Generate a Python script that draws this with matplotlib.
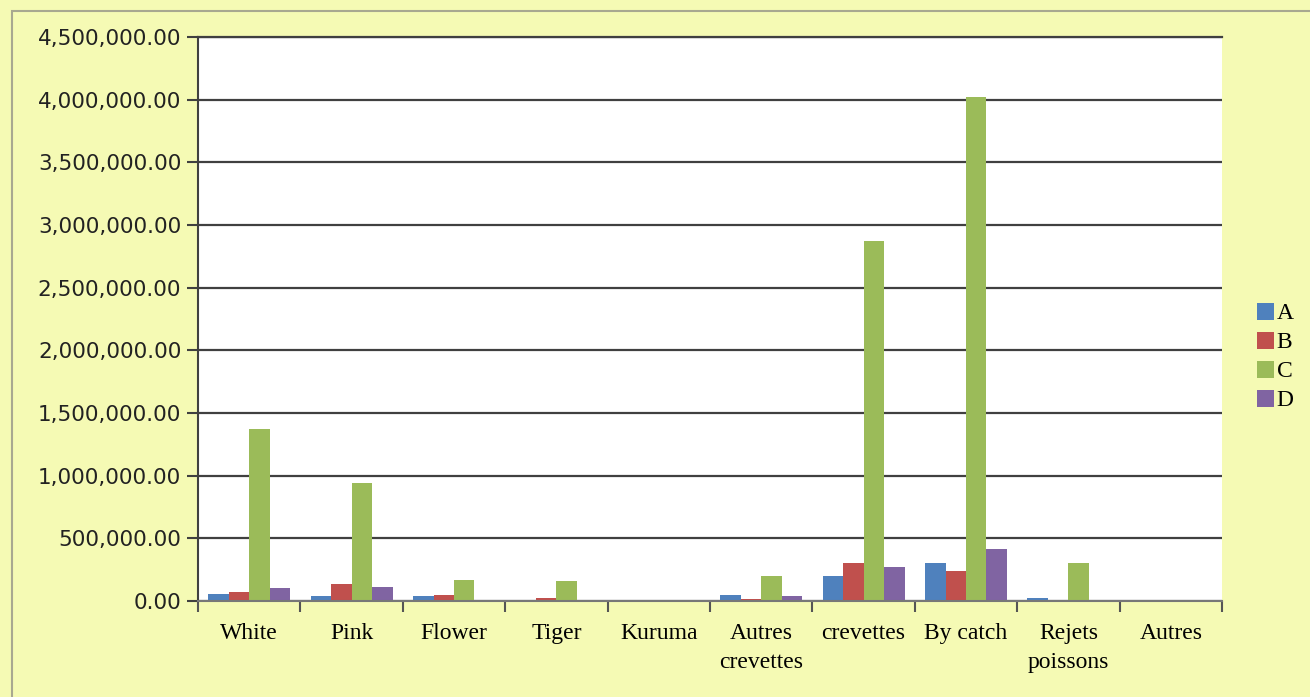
import matplotlib
matplotlib.use("Agg")
import matplotlib.pyplot as plt
import numpy as np
from matplotlib.ticker import FuncFormatter, MultipleLocator
from matplotlib.patches import Rectangle

categories = ["White", "Pink", "Flower", "Tiger", "Kuruma", "Autres\ncrevettes",
              "crevettes", "By catch", "Rejets\npoissons", "Autres"]
series_names = ["A", "B", "C", "D"]
A = [55000, 40000, 40000, 0, 0, 45000, 200000, 305000, 22000, 0]
B = [70000, 135000, 50000, 20000, 0, 15000, 305000, 240000, 6000, 0]
C = [1375000, 940000, 165000, 158000, 0, 200000, 2870000, 4020000, 300000, 0]
D = [103000, 112000, 0, 0, 0, 37000, 270000, 412000, 0, 0]
series = [A, B, C, D]
colors = ["#4F81BD", "#C0504D", "#9BBB59", "#8064A2"]

bg = "#F5FAB4"
fig = plt.figure(figsize=(13.1, 6.97), dpi=100, facecolor=bg)
fig.patches.append(Rectangle((12/1310, -0.1), 1.2, 1 - 11/697 + 0.1, transform=fig.transFigure,
                             fill=False, edgecolor="#A8A890", lw=1.5, zorder=0))
ax = fig.add_axes([198/1310, 1 - 601/697, (1222-198)/1310, (601-37)/697])
ax.set_facecolor("white")

x = np.arange(len(categories))
w = 0.2
for i, (vals, col, name) in enumerate(zip(series, colors, series_names)):
    ax.bar(x - 0.3 + i*w, vals, width=w, color=col, label=name, zorder=3)

ax.set_xlim(-0.5, len(categories) - 0.5)
ax.set_ylim(0, 4500000)
ax.yaxis.set_major_locator(MultipleLocator(500000))
ax.yaxis.set_major_formatter(FuncFormatter(lambda v, p: f"{v:,.2f}"))
ax.grid(axis="y", color="#404040", lw=1.6, zorder=1)

ax.set_xticks(np.arange(len(categories) + 1) - 0.5)
ax.set_xticklabels([])
ax.set_xticks(x, minor=True)
ax.set_xticklabels(categories, minor=True, fontfamily="Liberation Serif", fontsize=17,
                   linespacing=1.5)
ax.tick_params(axis="x", which="minor", length=0, pad=16)
ax.tick_params(axis="x", which="major", length=8, width=1.5, color="#555555")
ax.tick_params(axis="y", length=8, width=1.5, color="#404040", pad=4, labelsize=15.5)
for lab in ax.get_yticklabels():
    lab.set_fontfamily("DejaVu Sans")
    lab.set_color("#222222")

ax.spines["right"].set_visible(False)
ax.spines["top"].set_color("#404040")
ax.spines["top"].set_linewidth(1.6)
ax.spines["left"].set_color("#404040")
ax.spines["left"].set_linewidth(1.5)
ax.spines["bottom"].set_color("#777777")
ax.spines["bottom"].set_linewidth(1.5)
ax.spines["bottom"].set_zorder(4)

leg = fig.legend(loc="center left", bbox_to_anchor=(1240/1310, 1 - 357/697), frameon=False,
                 prop={"family": "Liberation Serif", "size": 17}, handlelength=0.75,
                 handleheight=0.75, handletextpad=0.1, labelspacing=0.3, borderpad=0.2)

fig.savefig("out.png", dpi=100, facecolor=bg)
